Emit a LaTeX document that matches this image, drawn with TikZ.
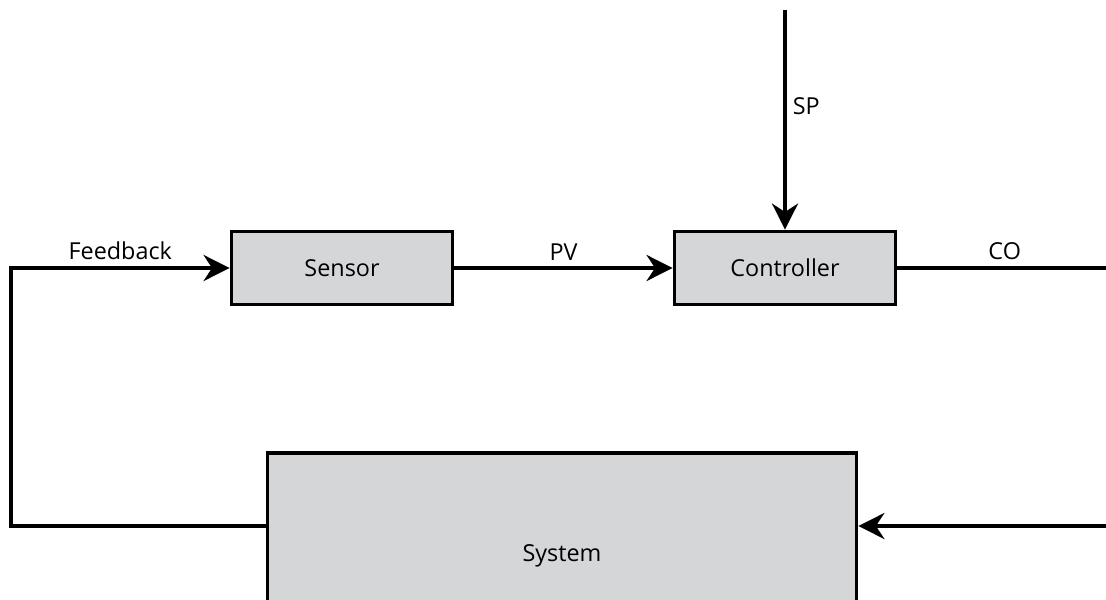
\documentclass[tikz,border=0pt]{standalone}
\usepackage{fontspec}
\setmainfont{Open Sans}
\usetikzlibrary{arrows.meta,positioning}
\definecolor{blockgray}{RGB}{213,214,216}
\tikzset{
  block/.style={draw, line width=2.2pt, fill=blockgray, minimum width=4.42cm, minimum height=1.46cm},
  sig/.style={line width=2.2pt, -{Stealth[length=0.52cm,width=0.52cm]}},
  wire/.style={line width=2.2pt},
}
\begin{document}
\begin{tikzpicture}[x=0.02cm, y=-0.02cm, font=\fontsize{13.3}{15}\selectfont]
  \useasboundingbox (0,0) rectangle (1106,599);
  \clip (0,0) rectangle (1106,599);
  \node[block] (sensor) at (342,268) {Sensor};
  \node[block] (ctrl) at (785,268) {Controller};
  \node[block, minimum width=11.78cm, minimum height=4.12cm] (sys) at (562,556) {System};
  \coordinate (sptop) at (785,10);
  \coordinate (coend) at (1112,268);
  \coordinate (sysin) at (1112,526);
  \coordinate (fbcorner) at (11,526);
  \draw[sig] (sptop) -- node[pos=0.44, right] {SP} (ctrl);
  \draw[sig] (sensor) -- node[above] {PV} (ctrl);
  \draw[wire] (ctrl) -- node[above] {CO} (coend);
  \draw[sig] (sysin) -- (sys.east |- sysin);
  \draw[sig] (sys.west |- fbcorner) -- (fbcorner) |- node[pos=0.75, above] {Feedback} (sensor.west);
\end{tikzpicture}
\end{document}
